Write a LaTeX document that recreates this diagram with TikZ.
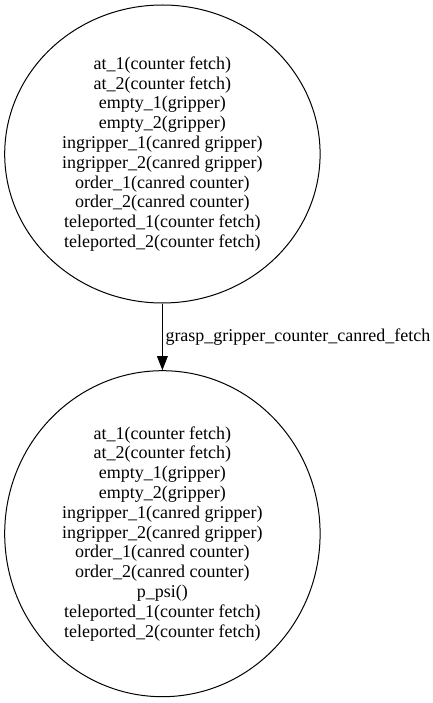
\documentclass[tikz,border=0pt]{standalone}
\usepackage{fontspec}
\setmainfont{Liberation Serif}
\usetikzlibrary{arrows.meta,shapes.geometric}
\tikzset{
  state/.style={draw=black, line width=1pt, ellipse, inner sep=0pt, align=center,
    font=\fontsize{18}{19.8}\selectfont},
  trans/.style={draw=black, line width=1pt, -{Triangle[length=14pt,width=10.7pt]}},
  translabel/.style={font=\fontsize{18}{19.8}\selectfont, inner sep=0pt, anchor=west, xshift=2.6pt}
}
\begin{document}
\begin{tikzpicture}[x=1pt,y=-1pt]
\useasboundingbox (0,0) rectangle (433,703);
\node[state, minimum width=315.4pt, minimum height=298pt] (s0) at (162.4,154) {at\_1(counter fetch)\\at\_2(counter fetch)\\empty\_1(gripper)\\empty\_2(gripper)\\ingripper\_1(canred gripper)\\ingripper\_2(canred gripper)\\order\_1(canred counter)\\order\_2(canred counter)\\teleported\_1(counter fetch)\\teleported\_2(counter fetch)};
\node[state, minimum width=315.4pt, minimum height=326pt] (s1) at (162.4,533.7) {at\_1(counter fetch)\\at\_2(counter fetch)\\empty\_1(gripper)\\empty\_2(gripper)\\ingripper\_1(canred gripper)\\ingripper\_2(canred gripper)\\order\_1(canred counter)\\order\_2(canred counter)\\p\_psi()\\teleported\_1(counter fetch)\\teleported\_2(counter fetch)};
\draw[trans] (s0.south) -- (s1.north) node[midway, translabel] {grasp\_gripper\_counter\_canred\_fetch};
\end{tikzpicture}
\end{document}
